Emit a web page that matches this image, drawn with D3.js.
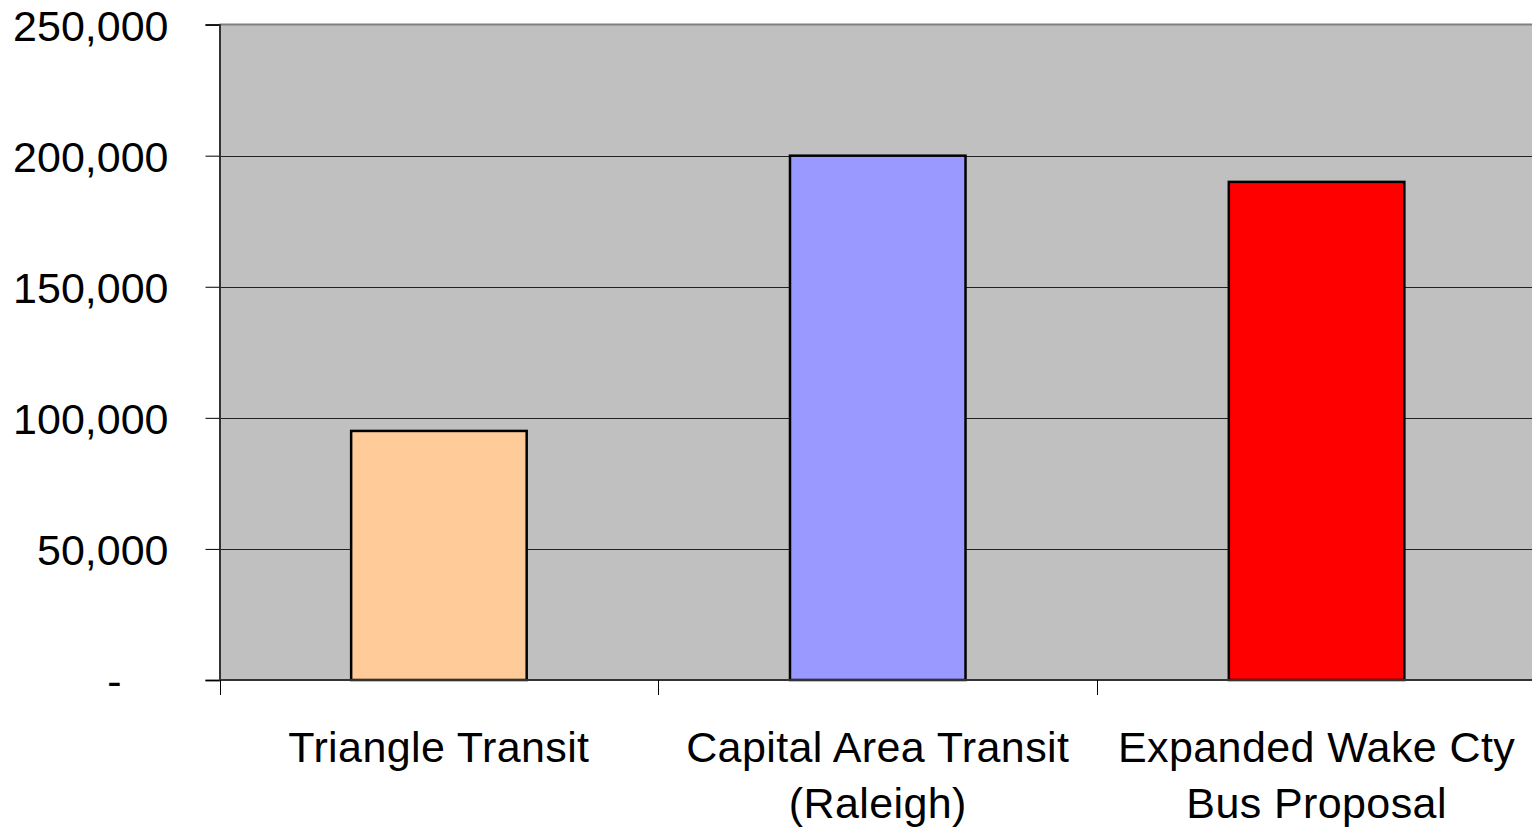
<!DOCTYPE html>
<html>
<head>
<meta charset="utf-8">
<script src="https://cdn.jsdelivr.net/npm/d3@7"></script>
<style>
  html, body { margin: 0; padding: 0; background: #fff; }
  svg { display: block; }
  text { font-family: "Liberation Sans", Arial, sans-serif; fill: #000; }
</style>
</head>
<body>
<svg id="chart" width="1532" height="832"></svg>
<script>
// ---- data ----
const categories = ["Triangle Transit", "Capital Area Transit (Raleigh)", "Expanded Wake Cty Bus Proposal"];
const categoryLines = [["Triangle Transit"], ["Capital Area Transit", "(Raleigh)"], ["Expanded Wake Cty", "Bus Proposal"]];
const values = [95000, 200000, 190000];
const barColors = ["#FFCC99", "#9999FF", "#FF0000"];
const yTicks = [0, 50000, 100000, 150000, 200000, 250000];

// ---- layout ----
const W = 1532, H = 832;
const plot = { left: 219.5, right: 1536, top: 24.6, bottom: 680 };
const fontSize = 43;

const svg = d3.select("#chart");

const x = d3.scaleBand()
  .domain(categories)
  .range([plot.left, plot.right])
  .paddingInner(0.6)
  .paddingOuter(0.3);

const y = d3.scaleLinear()
  .domain([0, 250000])
  .range([plot.bottom, plot.top]);

// plot background
svg.append("rect")
  .attr("x", plot.left).attr("y", plot.top)
  .attr("width", plot.right - plot.left).attr("height", plot.bottom - plot.top)
  .attr("fill", "#C0C0C0");

// top border
svg.append("line")
  .attr("x1", plot.left).attr("x2", plot.right)
  .attr("y1", plot.top).attr("y2", plot.top)
  .attr("stroke", "#808080").attr("stroke-width", 2);

// gridlines
svg.append("g")
  .selectAll("line")
  .data(yTicks.filter(d => d > 0 && d < 250000))
  .join("line")
  .attr("x1", plot.left).attr("x2", plot.right)
  .attr("y1", d => Math.round(y(d)) + 0.5).attr("y2", d => Math.round(y(d)) + 0.5)
  .attr("stroke", "#222").attr("stroke-width", 1);

// bars
svg.append("g")
  .selectAll("rect")
  .data(values)
  .join("rect")
  .attr("x", (d, i) => x(categories[i]))
  .attr("y", d => y(d))
  .attr("width", x.bandwidth())
  .attr("height", d => plot.bottom - y(d))
  .attr("fill", (d, i) => barColors[i])
  .attr("stroke", "#000")
  .attr("stroke-width", 2.5);

// y axis
const fmt = d3.format(",");
const yAxis = d3.axisLeft(y)
  .tickValues(yTicks)
  .tickSize(14)
  .tickPadding(37)
  .tickFormat(d => d === 0 ? "-" : fmt(d));

const yg = svg.append("g")
  .attr("transform", `translate(${plot.left},0)`)
  .call(yAxis);
yg.select(".domain").attr("stroke", "#333").attr("stroke-width", 2);
yg.selectAll(".tick line").attr("stroke", "#000").attr("stroke-width", 1);
yg.selectAll(".tick text")
  .attr("font-size", fontSize)
  .attr("font-family", '"Liberation Sans", Arial, sans-serif')
  .attr("fill", "#000")
  .attr("dy", "0.36em")
  .attr("x", d => d === 0 ? -98 : -51);

// x axis
const boundaries = [0, 1, 2, 3].map(i => plot.left + i * x.step());
const xg = svg.append("g");
xg.append("line")
  .attr("x1", plot.left).attr("x2", plot.right)
  .attr("y1", plot.bottom).attr("y2", plot.bottom)
  .attr("stroke", "#333").attr("stroke-width", 2);
xg.selectAll("line.tk")
  .data(boundaries)
  .join("line")
  .attr("class", "tk")
  .attr("x1", d => Math.round(d) + 0.5).attr("x2", d => Math.round(d) + 0.5)
  .attr("y1", plot.bottom).attr("y2", plot.bottom + 15)
  .attr("stroke", "#000").attr("stroke-width", 1);

// x labels
const lbl = svg.append("g");
categories.forEach((c, i) => {
  const cx = x(c) + x.bandwidth() / 2;
  const t = lbl.append("text")
    .attr("text-anchor", "middle")
    .attr("font-size", fontSize)
    .attr("letter-spacing", "0.4px");
  categoryLines[i].forEach((ln, j) => {
    t.append("tspan")
      .attr("x", cx)
      .attr("y", 762 + j * 56)
      .text(ln);
  });
});
</script>
</body>
</html>
